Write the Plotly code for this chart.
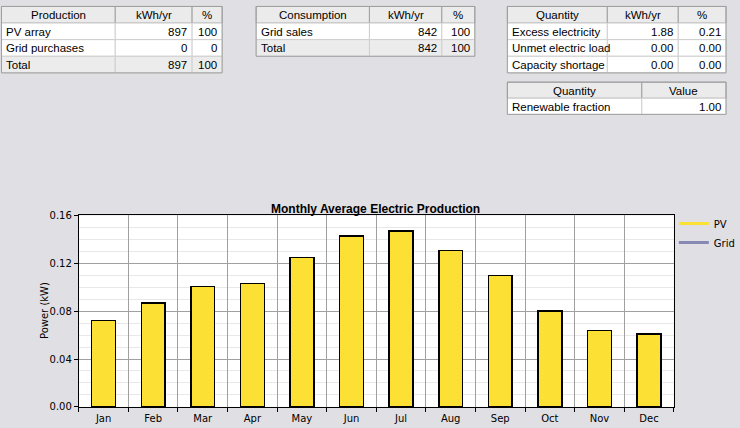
import plotly.graph_objects as go

W, H = 740, 428

# ---- data ----
months = ["Jan", "Feb", "Mar", "Apr", "May", "Jun", "Jul", "Aug", "Sep", "Oct", "Nov", "Dec"]
pv_kw = [0.072, 0.0867, 0.1005, 0.103, 0.125, 0.1429, 0.1472, 0.1309, 0.1097, 0.080, 0.0639, 0.0609]
grid_kw = [0, 0, 0, 0, 0, 0, 0, 0, 0, 0, 0, 0]

prod_header = ["Production", "kWh/yr", "%"]
prod_names = ["PV array", "Grid purchases", "Total"]
prod_kwh = ["897", "0", "897"]
prod_pct = ["100", "0", "100"]

cons_header = ["Consumption", "kWh/yr", "%"]
cons_names = ["Grid sales", "Total"]
cons_kwh = ["842", "842"]
cons_pct = ["100", "100"]

qty_header = ["Quantity", "kWh/yr", "%"]
qty_names = ["Excess electricity", "Unmet electric load", "Capacity shortage"]
qty_kwh = ["1.88", "0.00", "0.00"]
qty_pct = ["0.21", "0.00", "0.00"]

ren_header = ["Quantity", "Value"]
ren_names = ["Renewable fraction"]
ren_vals = ["1.00"]

BG = "#e0dfe3"
TFONT = dict(family="Liberation Sans, Arial, sans-serif", size=11.5, color="black")
CHART_FONT = "DejaVu Sans, Verdana, sans-serif"

shapes = []
annotations = []

def px(x):
    return x / W

def py(y):
    return 1 - y / H

def rect(x0, y0, x1, y1, fill, line, lw=1):
    shapes.append(dict(type="rect", xref="paper", yref="paper",
                       x0=px(x0), x1=px(x1), y0=py(y1), y1=py(y0),
                       fillcolor=fill, line=dict(color=line, width=lw), layer="below"))

def text(s, x, y, anchor):
    annotations.append(dict(text=s, x=px(x), y=py(y), xref="paper", yref="paper",
                            xanchor=anchor, yanchor="middle", showarrow=False,
                            font=TFONT))

def table(header, cols, edges, top, rh, total_last=False):
    nrows = len(cols[0])
    for j, h in enumerate(header):
        x0, x1 = edges[j], edges[j + 1]
        rect(x0, top, x1, top + rh, "#ebebeb", "#a0a0a0")
        text(h, (x0 + x1) / 2, top + rh / 2 + 0.5, "center")
    for i in range(nrows):
        y0 = top + rh * (i + 1)
        fill = "#ececec" if (total_last and i == nrows - 1) else "white"
        for j, col in enumerate(cols):
            x0, x1 = edges[j], edges[j + 1]
            rect(x0, y0, x1, y0 + rh, fill, "#cfcfcf")
            if j == 0:
                text(col[i], x0 + 3, y0 + rh / 2 + 0.5, "left")
            else:
                text(col[i], x1 - 3, y0 + rh / 2 + 0.5, "right")
    rect(edges[0], top, edges[-1], top + rh * (nrows + 1), "rgba(0,0,0,0)", "#a0a0a0")

table(prod_header, [prod_names, prod_kwh, prod_pct], [1.5, 117, 195, 225.5], 1.5, 17, True)
table(cons_header, [cons_names, cons_kwh, cons_pct], [260, 375, 448.5, 482], 1.5, 17, True)
table(qty_header, [qty_names, qty_kwh, qty_pct], [515, 616.5, 688.5, 737], 1.5, 17)
table(ren_header, [ren_names, ren_vals], [515, 651.5, 737], 79, 16.5)

fig = go.Figure()

fig.add_trace(go.Bar(x=months, y=pv_kw, name="PV", width=0.48,
                     marker=dict(color="#fde034", line=dict(color="black", width=1.5)),
                     showlegend=False))
fig.add_trace(go.Bar(x=months, y=grid_kw, name="Grid", width=0.48,
                     marker=dict(color="#8080b0", line=dict(color="black", width=1.5)),
                     showlegend=False))
fig.add_trace(go.Scatter(x=[None], y=[None], mode="lines", name="PV",
                         line=dict(color="#fde034", width=3)))
fig.add_trace(go.Scatter(x=[None], y=[None], mode="lines", name="Grid",
                         line=dict(color="#8888b4", width=3)))

annotations.append(dict(text="<b>Monthly Average Electric Production</b>",
                        x=px(381), y=py(209), xref="paper", yref="paper",
                        xanchor="center", yanchor="middle", showarrow=False,
                        font=dict(family="Liberation Sans, Arial, sans-serif", size=12, color="black")))
annotations.append(dict(text="Power (kW)", textangle=-90,
                        x=px(45), y=py(313), xref="paper", yref="paper",
                        xanchor="center", yanchor="middle", showarrow=False,
                        font=dict(family=CHART_FONT, size=10, color="black")))

fig.update_layout(
    width=W, height=H,
    margin=dict(l=0, r=0, t=0, b=0),
    paper_bgcolor=BG, plot_bgcolor="white",
    barmode="stack",
    font=dict(family=CHART_FONT, size=10, color="black"),
    shapes=shapes,
    annotations=annotations,
    xaxis=dict(domain=[px(80), px(684)], type="category", tickson="boundaries",
               showgrid=True, gridcolor="#a0a0a0", gridwidth=1,
               ticks="outside", ticklen=4, tickcolor="black",
               showline=True, linecolor="black", linewidth=1, mirror=True,
               ticklabelstandoff=2,
               tickfont=dict(family=CHART_FONT, size=10)),
    yaxis=dict(domain=[py(411.5), py(215.5)], range=[0, 0.16], dtick=0.04,
               tickformat=".2f", showgrid=True, gridcolor="#a0a0a0",
               ticks="outside", ticklen=4, tickcolor="black",
               showline=True, linecolor="black", linewidth=1, mirror=True,
               zeroline=False,
               minor=dict(dtick=0.01, showgrid=True, gridcolor="#e8e8e8"),
               tickfont=dict(family=CHART_FONT, size=10)),
    legend=dict(x=px(684), y=py(209), xanchor="left", yanchor="top",
                traceorder="normal",
                bgcolor="rgba(0,0,0,0)", font=dict(family=CHART_FONT, size=10),
                itemwidth=30, tracegroupgap=0),
)

fig.write_html("out.html")
